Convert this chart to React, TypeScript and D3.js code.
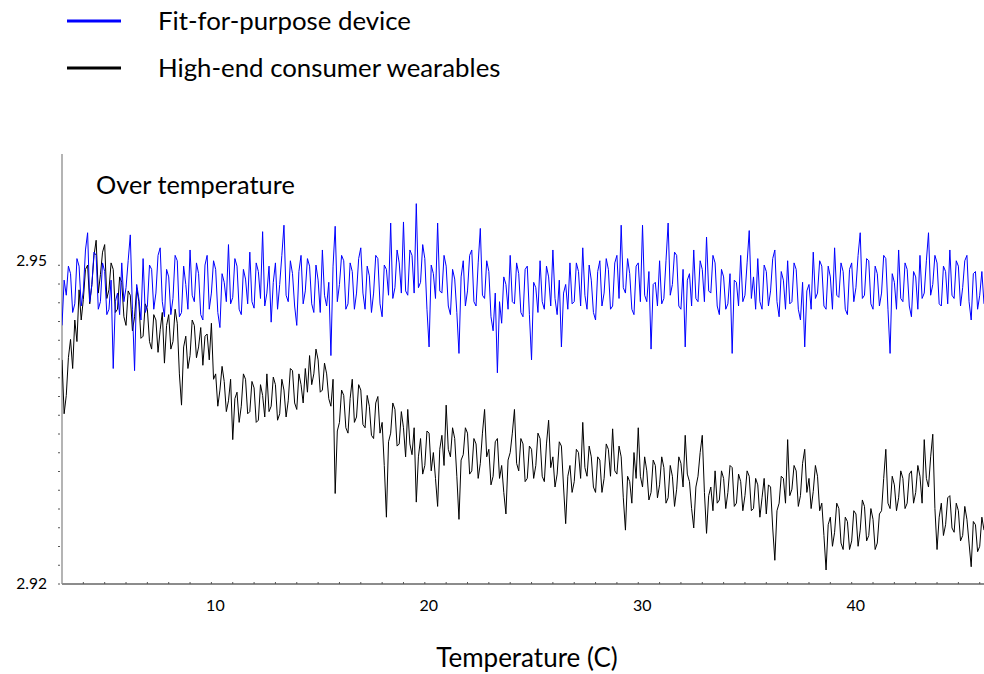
import React, { useEffect, useRef } from "react";
import * as d3 from "d3";

const seriesNames = ["Fit-for-purpose device", "High-end consumer wearables"];
const seriesColors = ["#0000ff", "#000000"];
const tempStart = 3.0;
const tempStep = 0.1;
const xTickLabels = [10, 20, 30, 40];
const yTickLabels = [2.92, 2.95];

const fitForPurpose = [
  2.9440, 2.9482, 2.9468, 2.9495, 2.9488, 2.9452, 2.9460, 2.9502, 2.9495, 2.9458, 2.9472, 2.9510, 2.9526, 2.9462, 2.9478, 2.9508, 2.9505, 2.9455, 2.9462, 2.9498,
  2.9490, 2.9450, 2.9455, 2.9482, 2.9400, 2.9462, 2.9470, 2.9450, 2.9498, 2.9462, 2.9475, 2.9500, 2.9524, 2.9455, 2.9398, 2.9478, 2.9465, 2.9445, 2.9502, 2.9452,
  2.9458, 2.9496, 2.9492, 2.9455, 2.9470, 2.9505, 2.9512, 2.9462, 2.9448, 2.9492, 2.9485, 2.9450, 2.9465, 2.9505, 2.9500, 2.9448, 2.9452, 2.9495, 2.9478, 2.9455,
  2.9510, 2.9468, 2.9462, 2.9498, 2.9488, 2.9450, 2.9445, 2.9496, 2.9505, 2.9455, 2.9470, 2.9500, 2.9492, 2.9452, 2.9438, 2.9488, 2.9480, 2.9462, 2.9515, 2.9460,
  2.9466, 2.9502, 2.9495, 2.9455, 2.9450, 2.9492, 2.9483, 2.9460, 2.9508, 2.9462, 2.9456, 2.9498, 2.9490, 2.9465, 2.9527, 2.9458, 2.9470, 2.9495, 2.9443, 2.9480,
  2.9498, 2.9455, 2.9478, 2.9505, 2.9533, 2.9468, 2.9462, 2.9500, 2.9488, 2.9458, 2.9440, 2.9490, 2.9505, 2.9460, 2.9472, 2.9502, 2.9495, 2.9460, 2.9452, 2.9496,
  2.9482, 2.9452, 2.9510, 2.9468, 2.9458, 2.9480, 2.9412, 2.9495, 2.9532, 2.9462, 2.9478, 2.9505, 2.9500, 2.9455, 2.9460, 2.9498, 2.9490, 2.9455, 2.9470, 2.9502,
  2.9512, 2.9470, 2.9455, 2.9495, 2.9486, 2.9452, 2.9470, 2.9505, 2.9502, 2.9460, 2.9448, 2.9496, 2.9492, 2.9468, 2.9535, 2.9465, 2.9475, 2.9510, 2.9498, 2.9470,
  2.9536, 2.9472, 2.9468, 2.9510, 2.9505, 2.9470, 2.9553, 2.9475, 2.9480, 2.9515, 2.9502, 2.9455, 2.9420, 2.9496, 2.9488, 2.9465, 2.9535, 2.9472, 2.9470, 2.9505,
  2.9495, 2.9458, 2.9450, 2.9492, 2.9483, 2.9452, 2.9414, 2.9485, 2.9500, 2.9458, 2.9472, 2.9505, 2.9510, 2.9462, 2.9458, 2.9498, 2.9530, 2.9468, 2.9465, 2.9500,
  2.9490, 2.9448, 2.9435, 2.9470, 2.9396, 2.9462, 2.9442, 2.9485, 2.9478, 2.9455, 2.9505, 2.9462, 2.9460, 2.9498, 2.9488, 2.9452, 2.9448, 2.9492, 2.9495, 2.9450,
  2.9408, 2.9480, 2.9475, 2.9452, 2.9500, 2.9462, 2.9455, 2.9495, 2.9485, 2.9458, 2.9510, 2.9465, 2.9450, 2.9482, 2.9420, 2.9470, 2.9478, 2.9455, 2.9498, 2.9460,
  2.9462, 2.9498, 2.9490, 2.9458, 2.9512, 2.9468, 2.9455, 2.9496, 2.9482, 2.9452, 2.9445, 2.9490, 2.9500, 2.9458, 2.9470, 2.9502, 2.9492, 2.9455, 2.9458, 2.9498,
  2.9505, 2.9465, 2.9533, 2.9475, 2.9470, 2.9502, 2.9488, 2.9455, 2.9450, 2.9495, 2.9498, 2.9462, 2.9533, 2.9468, 2.9462, 2.9490, 2.9418, 2.9478, 2.9480, 2.9458,
  2.9500, 2.9460, 2.9465, 2.9500, 2.9535, 2.9468, 2.9478, 2.9508, 2.9505, 2.9458, 2.9455, 2.9492, 2.9420, 2.9482, 2.9488, 2.9458, 2.9510, 2.9465, 2.9462, 2.9500,
  2.9492, 2.9462, 2.9522, 2.9472, 2.9470, 2.9505, 2.9498, 2.9458, 2.9450, 2.9492, 2.9485, 2.9455, 2.9460, 2.9488, 2.9414, 2.9482, 2.9480, 2.9458, 2.9505, 2.9462,
  2.9468, 2.9498, 2.9528, 2.9465, 2.9485, 2.9455, 2.9502, 2.9462, 2.9455, 2.9496, 2.9490, 2.9458, 2.9472, 2.9502, 2.9510, 2.9462, 2.9448, 2.9490, 2.9482, 2.9455,
  2.9500, 2.9460, 2.9462, 2.9498, 2.9492, 2.9455, 2.9445, 2.9480, 2.9420, 2.9472, 2.9478, 2.9455, 2.9508, 2.9465, 2.9470, 2.9500, 2.9495, 2.9458, 2.9455, 2.9495,
  2.9485, 2.9455, 2.9512, 2.9468, 2.9466, 2.9498, 2.9490, 2.9455, 2.9450, 2.9492, 2.9498, 2.9462, 2.9475, 2.9505, 2.9526, 2.9465, 2.9468, 2.9502, 2.9500, 2.9460,
  2.9455, 2.9495, 2.9488, 2.9458, 2.9470, 2.9505, 2.9502, 2.9455, 2.9414, 2.9488, 2.9480, 2.9455, 2.9510, 2.9465, 2.9462, 2.9498, 2.9492, 2.9458, 2.9448, 2.9490,
  2.9485, 2.9455, 2.9505, 2.9465, 2.9470, 2.9500, 2.9526, 2.9468, 2.9478, 2.9505, 2.9498, 2.9460, 2.9458, 2.9495, 2.9490, 2.9460, 2.9510, 2.9468, 2.9465, 2.9500,
  2.9495, 2.9458, 2.9475, 2.9500, 2.9505, 2.9462, 2.9445, 2.9488, 2.9490, 2.9455, 2.9468, 2.9490, 2.9460,
];

const consumerWearables = [
  2.9408, 2.9358, 2.9375, 2.9410, 2.9427, 2.9400, 2.9445, 2.9425, 2.9473, 2.9445, 2.9464, 2.9492, 2.9496, 2.9460, 2.9478, 2.9505, 2.9519, 2.9470, 2.9487, 2.9508,
  2.9515, 2.9465, 2.9473, 2.9498, 2.9492, 2.9452, 2.9455, 2.9485, 2.9480, 2.9448, 2.9440, 2.9472, 2.9468, 2.9435, 2.9448, 2.9475, 2.9462, 2.9428, 2.9430, 2.9460,
  2.9455, 2.9425, 2.9418, 2.9450, 2.9445, 2.9415, 2.9436, 2.9452, 2.9405, 2.9440, 2.9450, 2.9418, 2.9425, 2.9455, 2.9442, 2.9395, 2.9366, 2.9420, 2.9430, 2.9400,
  2.9412, 2.9445, 2.9440, 2.9410, 2.9420, 2.9438, 2.9403, 2.9430, 2.9432, 2.9408, 2.9442, 2.9390, 2.9395, 2.9365, 2.9380, 2.9402, 2.9388, 2.9360, 2.9370, 2.9390,
  2.9334, 2.9372, 2.9378, 2.9350, 2.9365, 2.9395, 2.9390, 2.9358, 2.9360, 2.9388, 2.9382, 2.9350, 2.9352, 2.9385, 2.9375, 2.9355, 2.9395, 2.9360, 2.9365, 2.9392,
  2.9385, 2.9352, 2.9358, 2.9390, 2.9380, 2.9355, 2.9370, 2.9400, 2.9398, 2.9368, 2.9362, 2.9395, 2.9385, 2.9368, 2.9400, 2.9378, 2.9412, 2.9385, 2.9395, 2.9418,
  2.9408, 2.9378, 2.9380, 2.9405, 2.9395, 2.9372, 2.9365, 2.9390, 2.9284, 2.9342, 2.9350, 2.9380, 2.9375, 2.9345, 2.9340, 2.9372, 2.9390, 2.9350, 2.9355, 2.9385,
  2.9380, 2.9348, 2.9345, 2.9375, 2.9365, 2.9338, 2.9335, 2.9368, 2.9374, 2.9340, 2.9350, 2.9310, 2.9262, 2.9332, 2.9340, 2.9368, 2.9362, 2.9328, 2.9330, 2.9360,
  2.9345, 2.9318, 2.9362, 2.9330, 2.9320, 2.9345, 2.9276, 2.9318, 2.9335, 2.9302, 2.9310, 2.9342, 2.9340, 2.9305, 2.9322, 2.9298, 2.9272, 2.9325, 2.9338, 2.9310,
  2.9366, 2.9325, 2.9318, 2.9345, 2.9335, 2.9300, 2.9260, 2.9315, 2.9320, 2.9345, 2.9340, 2.9302, 2.9305, 2.9335, 2.9330, 2.9298, 2.9312, 2.9340, 2.9362, 2.9318,
  2.9325, 2.9292, 2.9300, 2.9332, 2.9335, 2.9298, 2.9310, 2.9285, 2.9265, 2.9315, 2.9322, 2.9340, 2.9362, 2.9312, 2.9305, 2.9335, 2.9330, 2.9295, 2.9298, 2.9328,
  2.9325, 2.9298, 2.9310, 2.9340, 2.9335, 2.9300, 2.9295, 2.9330, 2.9352, 2.9308, 2.9318, 2.9290, 2.9302, 2.9332, 2.9328, 2.9290, 2.9256, 2.9300, 2.9310, 2.9285,
  2.9295, 2.9325, 2.9322, 2.9298, 2.9350, 2.9308, 2.9300, 2.9328, 2.9318, 2.9290, 2.9285, 2.9318, 2.9315, 2.9285, 2.9298, 2.9330, 2.9325, 2.9300, 2.9344, 2.9305,
  2.9302, 2.9328, 2.9318, 2.9280, 2.9250, 2.9300, 2.9295, 2.9275, 2.9322, 2.9298, 2.9345, 2.9300, 2.9290, 2.9318, 2.9305, 2.9278, 2.9285, 2.9315, 2.9310, 2.9280,
  2.9292, 2.9318, 2.9308, 2.9275, 2.9280, 2.9310, 2.9300, 2.9272, 2.9288, 2.9318, 2.9312, 2.9290, 2.9338, 2.9302, 2.9295, 2.9270, 2.9252, 2.9290, 2.9300, 2.9322,
  2.9338, 2.9285, 2.9247, 2.9282, 2.9290, 2.9268, 2.9305, 2.9275, 2.9278, 2.9305, 2.9298, 2.9270, 2.9285, 2.9310, 2.9308, 2.9272, 2.9275, 2.9302, 2.9295, 2.9268,
  2.9282, 2.9305, 2.9300, 2.9268, 2.9270, 2.9298, 2.9292, 2.9262, 2.9280, 2.9298, 2.9265, 2.9292, 2.9290, 2.9252, 2.9222, 2.9268, 2.9275, 2.9300, 2.9298, 2.9275,
  2.9334, 2.9282, 2.9288, 2.9310, 2.9305, 2.9272, 2.9282, 2.9312, 2.9325, 2.9285, 2.9298, 2.9270, 2.9286, 2.9310, 2.9300, 2.9268, 2.9275, 2.9245, 2.9213, 2.9255,
  2.9262, 2.9235, 2.9248, 2.9275, 2.9270, 2.9238, 2.9232, 2.9262, 2.9258, 2.9232, 2.9240, 2.9268, 2.9265, 2.9235, 2.9250, 2.9278, 2.9272, 2.9240, 2.9245, 2.9270,
  2.9260, 2.9232, 2.9238, 2.9265, 2.9268, 2.9298, 2.9325, 2.9275, 2.9270, 2.9300, 2.9292, 2.9268, 2.9280, 2.9305, 2.9298, 2.9270, 2.9275, 2.9302, 2.9305, 2.9275,
  2.9285, 2.9310, 2.9300, 2.9275, 2.9334, 2.9298, 2.9290, 2.9318, 2.9339, 2.9270, 2.9232, 2.9262, 2.9275, 2.9245, 2.9255, 2.9280, 2.9282, 2.9252, 2.9248, 2.9275,
  2.9268, 2.9240, 2.9245, 2.9272, 2.9260, 2.9238, 2.9216, 2.9258, 2.9255, 2.9230, 2.9235, 2.9262, 2.9250,
];

const W = 984;
const H = 674;
const FONT = "Lato, 'Open Sans', 'Liberation Sans', sans-serif";

export default function App() {
  const ref = useRef<SVGSVGElement | null>(null);

  useEffect(() => {
    const svg = d3.select(ref.current);
    svg.selectAll("*").remove();

    const left = 62, right = 984, top = 153, bottom = 584;
    const x = d3.scaleLinear().domain([3, 46.2]).range([left, right]);
    const y = d3.scaleLinear().domain([2.92, 2.96]).range([bottom, top]);

    svg.append("defs").append("clipPath").attr("id", "plotclip")
      .append("rect").attr("x", left).attr("y", top - 2).attr("width", right - left).attr("height", bottom - top + 2);

    const axisColor = "#8c8c8c";

    svg.append("line").attr("x1", left).attr("x2", left).attr("y1", y(2.96) + 1).attr("y2", bottom)
      .attr("stroke", axisColor).attr("stroke-width", 1.3);
    svg.append("line").attr("x1", left).attr("x2", right).attr("y1", bottom).attr("y2", bottom)
      .attr("stroke", axisColor).attr("stroke-width", 2);

    const yMinor = d3.range(0, 18).map((k) => 2.92 + k * 0.00174);
    svg.append("g").selectAll("line").data(yMinor).join("line")
      .attr("x1", left - 4).attr("x2", left - 2)
      .attr("y1", (d) => y(d)).attr("y2", (d) => y(d))
      .attr("stroke", "#555").attr("stroke-width", 1);

    const xMinor = d3.range(4, 47, 1);
    svg.append("g").selectAll("line").data(xMinor).join("line")
      .attr("x1", (d) => x(d)).attr("x2", (d) => x(d))
      .attr("y1", bottom).attr("y2", bottom - 2)
      .attr("stroke", "#555").attr("stroke-width", 1);

    svg.append("g").selectAll("text").data(yTickLabels).join("text")
      .attr("x", 47).attr("y", (d) => y(d)).attr("dy", "0.35em")
      .attr("text-anchor", "end").attr("font-family", FONT).attr("font-size", 15.5)
      .attr("fill", "#000").text((d) => d3.format(".2f")(d));

    svg.append("g").selectAll("text").data(xTickLabels).join("text")
      .attr("x", (d) => x(d) + 4).attr("y", 611)
      .attr("text-anchor", "middle").attr("font-family", FONT).attr("font-size", 16)
      .attr("fill", "#000").text((d) => String(d));

    const plot = svg.append("g").attr("clip-path", "url(#plotclip)");
    const line = d3.line<number>()
      .x((_, i) => x(tempStart + i * tempStep))
      .y((d) => y(d));

    plot.append("path").datum(consumerWearables).attr("d", line)
      .attr("fill", "none").attr("stroke", seriesColors[1]).attr("stroke-width", 1);
    plot.append("path").datum(fitForPurpose).attr("d", line)
      .attr("fill", "none").attr("stroke", seriesColors[0]).attr("stroke-width", 1);

    svg.append("text").attr("x", 96).attr("y", 194).attr("font-family", FONT)
      .attr("font-size", 25.3).attr("fill", "#000").text("Over temperature");

    svg.append("text").attr("x", 527).attr("y", 667).attr("text-anchor", "middle")
      .attr("font-family", FONT).attr("font-size", 26).attr("fill", "#000").text("Temperature (C)");

    const legendY = [21, 68];
    seriesNames.forEach((name, i) => {
      svg.append("line").attr("x1", 67).attr("x2", 121).attr("y1", legendY[i]).attr("y2", legendY[i])
        .attr("stroke", seriesColors[i]).attr("stroke-width", 3);
      svg.append("text").attr("x", 158).attr("y", legendY[i]).attr("dy", "0.35em")
        .attr("font-family", FONT).attr("font-size", 25.8).attr("fill", "#000").text(name);
    });
  }, []);

  return (
    <svg ref={ref} width={W} height={H}
      style={{ position: "absolute", left: 0, top: 0, background: "#fff" }} />
  );
}
